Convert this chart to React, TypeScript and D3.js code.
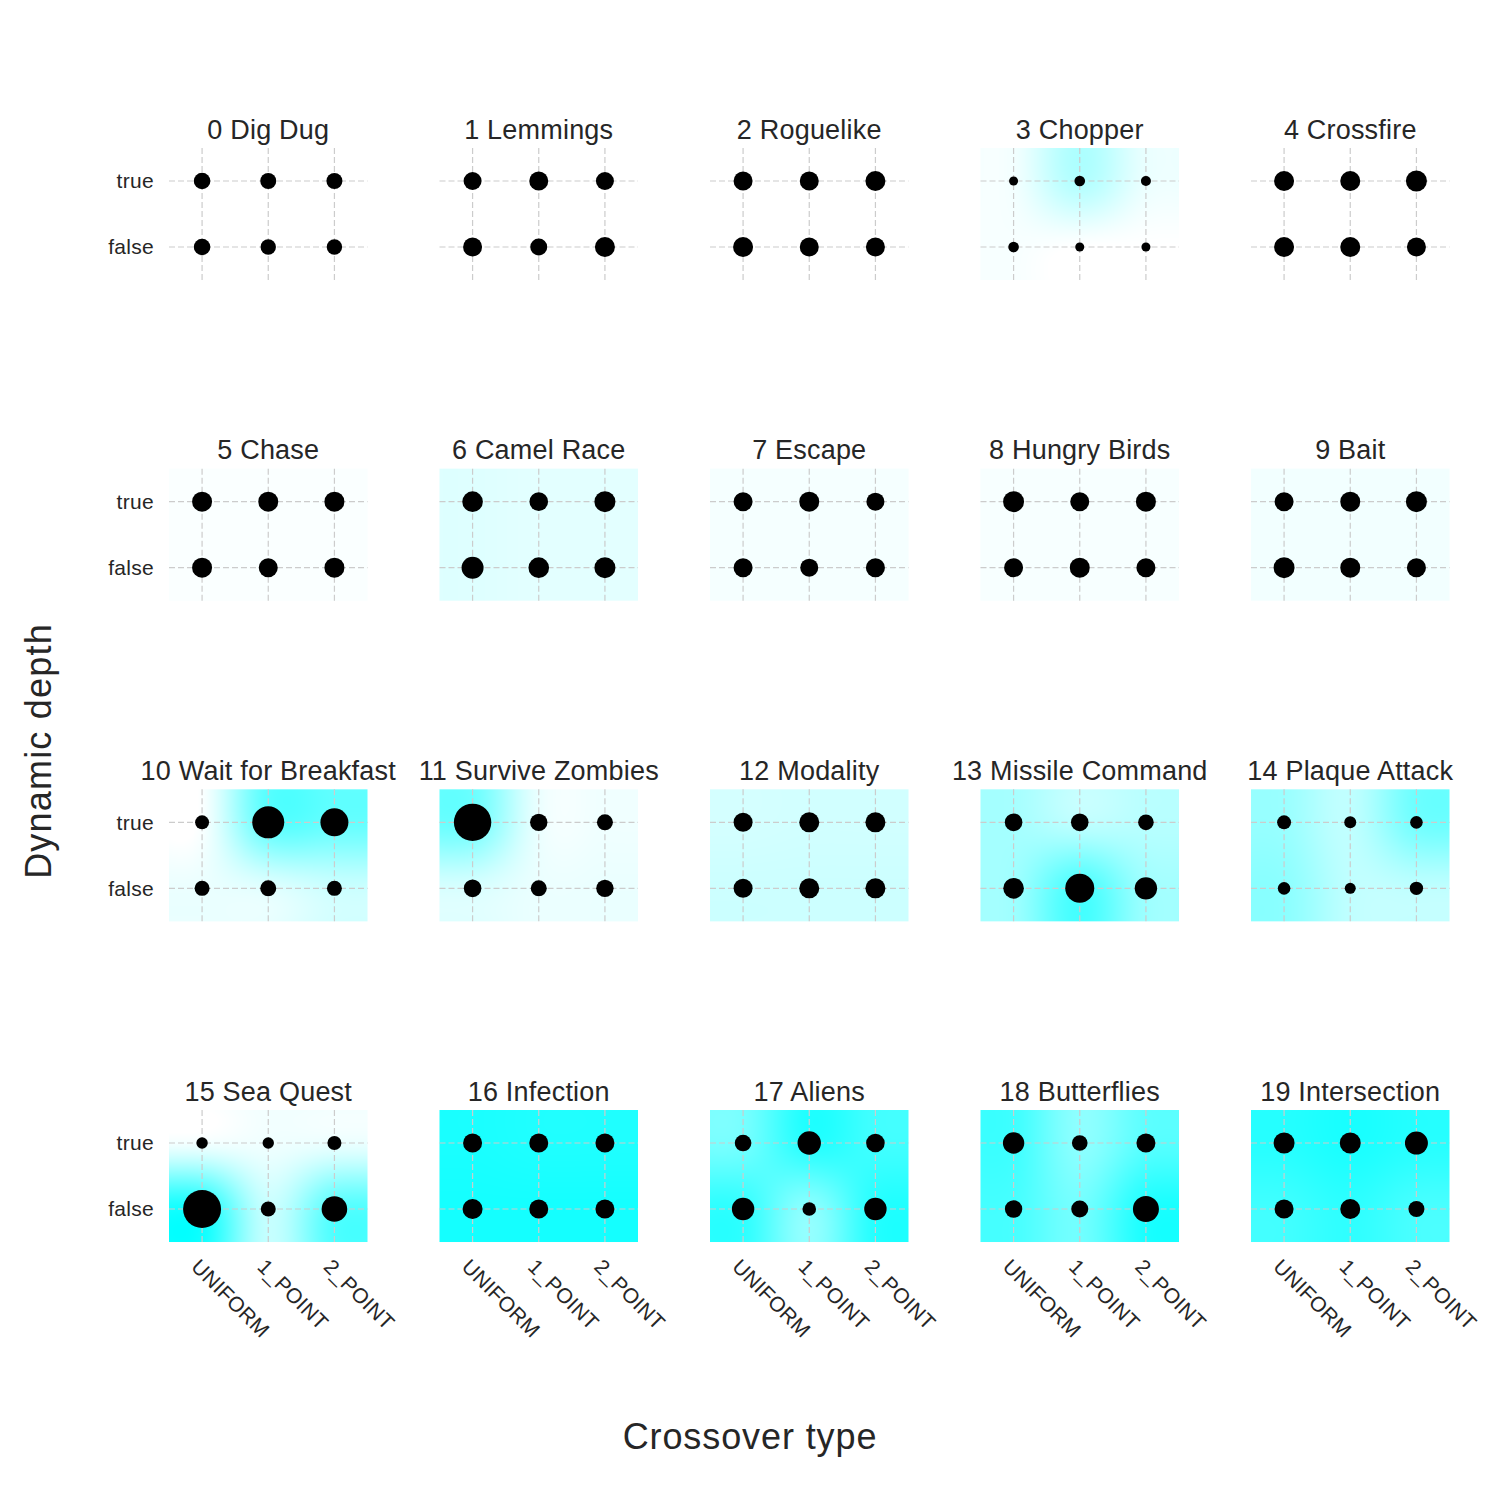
import { useMemo } from "react";
import * as d3 from "d3";

// facet titles, one per game
const games = [
  "0 Dig Dug", "1 Lemmings", "2 Roguelike", "3 Chopper", "4 Crossfire",
  "5 Chase", "6 Camel Race", "7 Escape", "8 Hungry Birds", "9 Bait",
  "10 Wait for Breakfast", "11 Survive Zombies", "12 Modality", "13 Missile Command", "14 Plaque Attack",
  "15 Sea Quest", "16 Infection", "17 Aliens", "18 Butterflies", "19 Intersection",
];
const crossoverTypes = ["UNIFORM", "1_POINT", "2_POINT"];
const depthLabels = ["true", "false"];

// marker radius (px), per game, for UNIFORM / 1_POINT / 2_POINT
const sizeTrue = [
  [8.3, 8, 8], [9, 9.5, 9], [9.5, 9.5, 10], [4.5, 5.3, 5], [10, 10, 10.5],
  [10, 10, 10], [10.3, 9.3, 10.5], [9.5, 10, 9], [10.5, 9.5, 10], [9.5, 10, 10.5],
  [7, 16, 14], [18.7, 8.7, 8], [9.5, 10, 10], [8.8, 8.8, 7.8], [7, 6, 6.3],
  [5.7, 5.7, 7], [9.5, 9.5, 9.5], [8.3, 11.7, 9.3], [10.7, 7.8, 9.5], [10.5, 10.5, 11.5],
];
const sizeFalse = [
  [8.3, 7.7, 7.7], [9.5, 8.5, 10], [10, 9.5, 9.5], [5.3, 4.5, 4.5], [10, 10, 9.5],
  [10, 9.5, 10], [11, 10.3, 10.5], [9.5, 9, 9.5], [9.5, 10, 9.5], [10.5, 10, 9.5],
  [7.5, 8, 7.5], [8.8, 8, 8.7], [9.5, 10, 10], [10.3, 14.5, 11.2], [6.3, 5.5, 6.7],
  [19, 7.5, 12.8], [10, 9.5, 9.5], [11.2, 6.8, 11.2], [8.7, 8.5, 13], [9.5, 10, 8],
];

// background intensity (0 = white, 1 = cyan)
const heatTrue = [
  [0, 0, 0], [0, 0, 0], [0, 0, 0], [0.05, 0.3, 0.08], [0, 0, 0],
  [0.02, 0.02, 0.02], [0.13, 0.11, 0.11], [0.04, 0.04, 0.04], [0.03, 0.03, 0.03], [0.05, 0.05, 0.05],
  [0.02, 0.62, 0.6], [0.55, 0.08, 0.06], [0.17, 0.18, 0.18], [0.35, 0.25, 0.28], [0.4, 0.25, 0.55],
  [0.05, 0.06, 0.08], [0.9, 0.88, 0.88], [0.55, 0.85, 0.75], [0.75, 0.45, 0.65], [0.85, 0.9, 0.85],
];
const heatFalse = [
  [0, 0, 0], [0, 0, 0], [0, 0, 0], [0.03, 0, 0], [0, 0, 0],
  [0.02, 0.02, 0.02], [0.13, 0.11, 0.11], [0.04, 0.04, 0.04], [0.03, 0.03, 0.03], [0.05, 0.05, 0.05],
  [0.08, 0.12, 0.2], [0.15, 0.08, 0.08], [0.2, 0.2, 0.2], [0.38, 0.7, 0.38], [0.45, 0.25, 0.25],
  [0.88, 0.22, 0.65], [0.92, 0.92, 0.92], [0.8, 0.45, 0.85], [0.72, 0.55, 0.88], [0.75, 0.82, 0.72],
];

const W = 1500;
const H = 1500;
const nCols = 5;
const panelLeft = 169;
const panelTop = 148;
const colStep = 270.5;
const rowStep = 320.67;
const panelW = 198.5;
const panelH = 132;
const font = "'Liberation Sans', Arial, sans-serif";
const textColor = "#262626";

const color = d3.scaleLinear<string>().domain([0, 1]).range(["#ffffff", "#00ffff"]).clamp(true);

// Catmull-Rom style cubic weight
function cubicW(x: number) {
  const a = -0.5;
  const t = Math.abs(x);
  if (t <= 1) return (a + 2) * t * t * t - (a + 3) * t * t + 1;
  if (t < 2) return a * t * t * t - 5 * a * t * t + 8 * a * t - 4 * a;
  return 0;
}

function heatImage(grid: number[][]) {
  const cw = Math.round(panelW);
  const ch = panelH;
  const canvas = document.createElement("canvas");
  canvas.width = cw;
  canvas.height = ch;
  const ctx = canvas.getContext("2d");
  if (!ctx) return "";
  const img = ctx.createImageData(cw, ch);
  const rows = grid.length;
  const cols = grid[0].length;
  for (let py = 0; py < ch; py++) {
    const v = ((py + 0.5) / ch) * rows - 0.5;
    for (let px = 0; px < cw; px++) {
      const u = ((px + 0.5) / cw) * cols - 0.5;
      const fu = Math.floor(u);
      const fv = Math.floor(v);
      let sum = 0;
      for (let j = fv - 1; j <= fv + 2; j++) {
        const wj = cubicW(v - j);
        const rj = Math.min(rows - 1, Math.max(0, j));
        for (let i = fu - 1; i <= fu + 2; i++) {
          const ci = Math.min(cols - 1, Math.max(0, i));
          sum += grid[rj][ci] * cubicW(u - i) * wj;
        }
      }
      const c = d3.rgb(color(sum));
      const k = (py * cw + px) * 4;
      img.data[k] = c.r;
      img.data[k + 1] = c.g;
      img.data[k + 2] = c.b;
      img.data[k + 3] = 255;
    }
  }
  ctx.putImageData(img, 0, 0);
  return canvas.toDataURL();
}

export default function App() {
  const images = useMemo(
    () => games.map((_, i) => heatImage([heatTrue[i], heatFalse[i]])),
    []
  );

  const x = d3.scaleLinear().domain([-0.5, 2.5]).range([0, panelW]);
  const y = d3.scaleLinear().domain([-0.5, 1.5]).range([0, panelH]);
  const r = d3.scaleLinear().domain([0, 20]).range([0, 20]);

  return (
    <div style={{ position: "absolute", left: 0, top: 0 }}>
      <svg width={W} height={H} style={{ display: "block", background: "#fff" }}>
        {games.map((name, gi) => {
          const col = gi % nCols;
          const row = Math.floor(gi / nCols);
          const left = panelLeft + col * colStep;
          const top = panelTop + row * rowStep;
          const sizes = [sizeTrue[gi], sizeFalse[gi]];
          return (
            <g key={name} transform={`translate(${left},${top})`}>
              <image
                href={images[gi]}
                x={0}
                y={0}
                width={panelW}
                height={panelH}
                preserveAspectRatio="none"
              />
              {crossoverTypes.map((_, ci) => (
                <line
                  key={"v" + ci}
                  x1={x(ci)}
                  x2={x(ci)}
                  y1={0}
                  y2={panelH}
                  stroke="#cccccc"
                  strokeWidth={1.2}
                  strokeDasharray="6 3"
                />
              ))}
              {depthLabels.map((_, di) => (
                <line
                  key={"h" + di}
                  x1={0}
                  x2={panelW}
                  y1={y(di)}
                  y2={y(di)}
                  stroke="#cccccc"
                  strokeWidth={1.2}
                  strokeDasharray="6 3"
                />
              ))}
              {sizes.map((rowVals, di) =>
                rowVals.map((s, ci) => (
                  <circle key={`${di}-${ci}`} cx={x(ci)} cy={y(di)} r={r(s)} fill="#000" />
                ))
              )}
              <text
                x={panelW / 2}
                y={-9.5}
                textAnchor="middle"
                fontFamily={font}
                fontSize={27}
                letterSpacing={0.2}
                fill={textColor}
              >
                {name}
              </text>
              {col === 0 &&
                depthLabels.map((lab, di) => (
                  <text
                    key={lab}
                    x={-15}
                    y={y(di)}
                    dy="0.35em"
                    textAnchor="end"
                    fontFamily={font}
                    fontSize={21}
                    letterSpacing={0.3}
                    fill={textColor}
                  >
                    {lab}
                  </text>
                ))}
              {row === 3 &&
                crossoverTypes.map((lab, ci) => (
                  <text
                    key={lab}
                    transform={`translate(${x(ci) - 12},${panelH + 26}) rotate(45)`}
                    fontFamily={font}
                    fontSize={21}
                    letterSpacing={0.3}
                    fill={textColor}
                  >
                    {lab}
                  </text>
                ))}
            </g>
          );
        })}
        <text
          x={750}
          y={1449}
          textAnchor="middle"
          fontFamily={font}
          fontSize={36}
          letterSpacing={0.9}
          fill={textColor}
        >
          Crossover type
        </text>
        <text
          transform="translate(51,751) rotate(-90)"
          textAnchor="middle"
          fontFamily={font}
          fontSize={36}
          letterSpacing={1.2}
          fill={textColor}
        >
          Dynamic depth
        </text>
      </svg>
    </div>
  );
}
